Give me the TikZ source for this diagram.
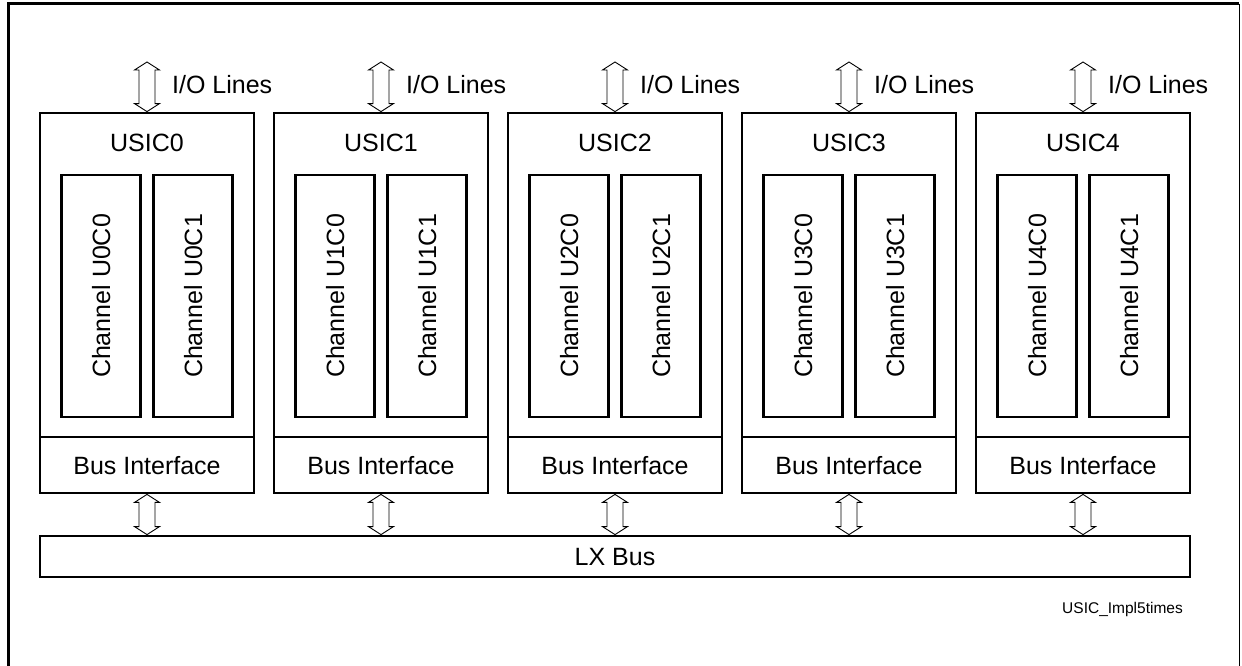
\documentclass[tikz,border=0pt]{standalone}
\usepackage{fontspec}
\setmainfont{Liberation Sans}
\usetikzlibrary{calc}
\newcommand\dblarr[2]{%
  \draw[arrline] let \p1=(#1), \p2=(#2) in
    (\x1,\y1) -- (\x1+12.5pt,\y1-8pt) -- (\x1+8pt,\y1-8pt) -- (\x1+8pt,\y2+8pt)
    -- (\x1+12.5pt,\y2+8pt) -- (\x1,\y2) -- (\x1-12.5pt,\y2+8pt) -- (\x1-8pt,\y2+8pt)
    -- (\x1-8pt,\y1-8pt) -- (\x1-12.5pt,\y1-8pt) -- cycle;}
\begin{document}
\begin{tikzpicture}[x=1pt,y=-1pt,
  thick box/.style={draw=black,line width=2.8pt,inner sep=0pt},
  lbl/.style={font=\fontsize{25}{30}\selectfont,inner sep=0pt,text height=18pt,text depth=0pt},
  arrline/.style={draw=black,line width=0.9pt,fill=white,line join=miter},
  frame/.style={draw=black,line width=3pt}]
\useasboundingbox (0,0) rectangle (1242,666);
% outer frame
\draw[frame] (8,666) -- (8,4) -- (1239,4);
\draw[draw=black,line width=1pt] (1239,4) -- (1239,666);
% USIC blocks
\foreach \i in {0,...,4}{
  \pgfmathsetmacro\cx{147+234*\i}
  \node[thick box,minimum width=214pt,minimum height=380pt] (u\i) at (\cx,303) {};
  \node[lbl,anchor=center] (t\i) at (\cx,143) {USIC\i};
  \node[thick box,lbl,minimum width=214pt,minimum height=56pt] (b\i) at (\cx,465) {Bus Interface};
  \node[thick box,lbl,rotate=90,minimum width=242pt,minimum height=79pt] (c\i a) at (\cx-46,296) {Channel U\i C0};
  \node[thick box,lbl,rotate=90,minimum width=242pt,minimum height=79pt] (c\i b) at (\cx+46,296) {Channel U\i C1};
  \coordinate (io\i) at (\cx,62);
  \node[lbl,anchor=west] (iol\i) at (\cx+25,85) {I/O Lines};
}
\node[thick box,lbl,minimum width=1150pt,minimum height=41pt] (lx) at (615,556.5) {LX Bus};
\foreach \i in {0,...,4}{
  \dblarr{io\i}{u\i.north}
  \dblarr{b\i.south}{u\i |- lx.north}
}
\node[font=\fontsize{15.5}{18}\selectfont,inner sep=0pt,anchor=base east] (fig) at (1183,613) {USIC\_Impl5times};
\end{tikzpicture}
\end{document}
